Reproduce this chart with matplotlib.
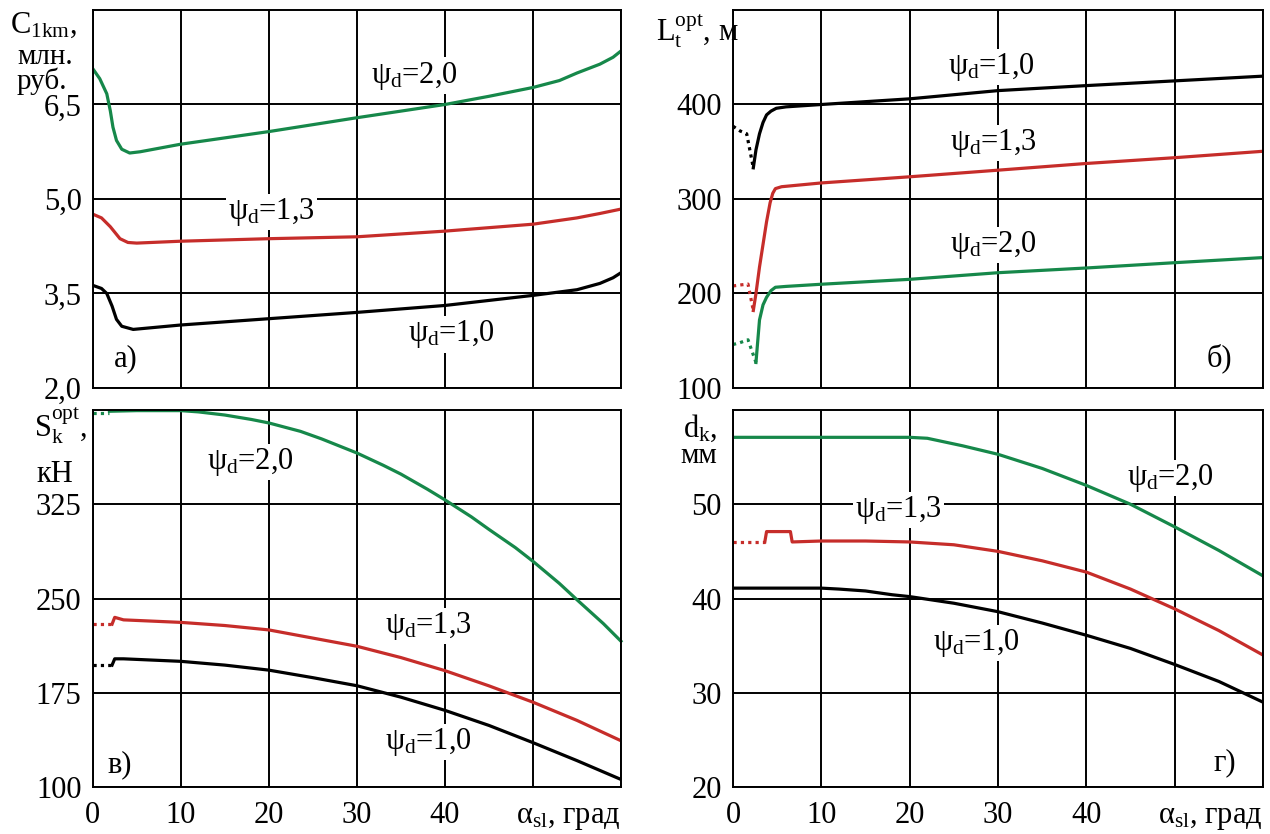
import matplotlib
matplotlib.use("Agg")
import matplotlib.pyplot as plt

plt.rcParams["font.family"] = ["Liberation Serif", "DejaVu Serif"]
plt.rcParams["mathtext.fontset"] = "custom"
plt.rcParams["mathtext.rm"] = "Liberation Serif"
plt.rcParams["mathtext.it"] = "Liberation Serif"
plt.rcParams["font.size"] = 22

GREEN = "#16884a"
RED = "#c62d2a"
BLACK = "#000000"

# --- а) cost per 1 km, mln rub ---
C_X_20 = [0, 0.8, 1.6, 2.0, 2.3, 2.7, 3.3, 4.2, 5.4, 10, 20, 30, 40, 45, 50, 53, 55, 57.6, 59.1, 60]
C_Y_20 = [7.07, 6.91, 6.67, 6.40, 6.14, 5.93, 5.79, 5.73, 5.75, 5.87, 6.07, 6.29, 6.50, 6.63, 6.77, 6.88, 7.00, 7.14, 7.25, 7.35]
C_X_13 = [0, 1.0, 2.0, 3.1, 4.0, 5.0, 10, 20, 30, 40, 50, 55, 57.6, 60]
C_Y_13 = [4.76, 4.70, 4.56, 4.37, 4.31, 4.30, 4.33, 4.37, 4.40, 4.49, 4.60, 4.70, 4.77, 4.84]
C_X_10 = [0, 1.0, 1.6, 2.2, 2.7, 3.3, 4.6, 10, 20, 30, 40, 50, 55, 57.6, 59.1, 60]
C_Y_10 = [3.63, 3.58, 3.50, 3.30, 3.09, 2.98, 2.93, 3.00, 3.10, 3.20, 3.31, 3.47, 3.56, 3.66, 3.75, 3.83]

# --- б) optimal length L_t, m (dotted start, then solid) ---
L_X_10_DOT = [0, 0.8, 1.55, 2.3]
L_Y_10_DOT = [377, 372, 369, 333]
L_X_10 = [2.3, 2.6, 3.0, 3.4, 3.8, 4.3, 4.9, 6, 10, 20, 30, 40, 50, 60]
L_Y_10 = [333, 352, 369, 381, 389, 393, 396, 397.5, 400, 406, 414.7, 420, 425, 430]
L_X_13_DOT = [0, 0.8, 1.7, 2.3]
L_Y_13_DOT = [208, 209, 210, 182]
L_X_13 = [2.3, 2.6, 3.0, 3.4, 3.8, 4.2, 4.5, 4.8, 5.5, 10, 20, 30, 40, 50, 60]
L_Y_13 = [182, 200, 228, 252, 276, 296, 306, 311, 313, 317, 323.5, 330.5, 337.6, 343.7, 350.5]
L_X_20_DOT = [0, 0.8, 1.7, 2.6]
L_Y_20_DOT = [146, 148, 151, 127]
L_X_20 = [2.6, 3.0, 3.4, 3.8, 4.3, 4.8, 6, 10, 20, 30, 40, 50, 60]
L_Y_20 = [127, 172, 188, 196, 203, 206.6, 207.5, 209.8, 215, 222, 227, 232.6, 238]

# --- в) optimal force S_k, kN ---
S_X_20_DOT = [0, 1.9]
S_Y_20_DOT = [398, 398]
S_X_20 = [1.9, 5, 10, 12, 15, 18, 20, 23.6, 26, 30, 33, 35, 38, 40, 43, 45, 48, 50, 53, 55, 58, 60]
S_Y_20 = [399, 399.5, 399.5, 398.5, 396, 392.5, 389.7, 383, 377, 365.8, 356, 349, 337, 328.5, 315, 305, 290.5, 279.6, 262, 249, 230, 216]
S_X_13_DOT = [0, 2.2]
S_Y_13_DOT = [229.6, 229.6]
S_X_13 = [2.2, 2.5, 3.5, 10, 15, 20, 25, 30, 35, 40, 45, 50, 55, 60]
S_Y_13 = [229.6, 235, 233, 231, 228.5, 225, 218.5, 212, 203, 192.6, 180.5, 167.5, 153, 136.8]
S_X_10_DOT = [0, 2.2]
S_Y_10_DOT = [197, 197]
S_X_10 = [2.2, 2.5, 3.5, 10, 15, 20, 25, 30, 35, 40, 45, 50, 55, 60]
S_Y_10 = [197, 202, 202, 200, 197, 193, 187, 180.6, 171.5, 161, 149, 135.3, 121, 106]

# --- г) rope diameter d_k, mm ---
D_X_20 = [0, 10, 20, 22, 24, 26, 30, 35, 40, 45, 50, 55, 60]
D_Y_20 = [57.1, 57.1, 57.1, 57.0, 56.6, 56.2, 55.3, 53.8, 52.0, 50.0, 47.6, 45.1, 42.4]
D_X_13_DOT = [0, 3.6]
D_Y_13_DOT = [46.0, 46.0]
D_X_13 = [3.6, 3.8, 6.5, 6.7, 10, 15, 20, 25, 30, 35, 40, 45, 50, 55, 60]
D_Y_13 = [46.0, 47.1, 47.1, 46.0, 46.1, 46.1, 46.0, 45.7, 45.0, 44.0, 42.8, 41.0, 38.9, 36.6, 34.0]
D_X_10 = [0, 10, 12, 15, 18, 20, 25, 30, 35, 40, 45, 50, 55, 60]
D_Y_10 = [41.1, 41.1, 41.0, 40.8, 40.4, 40.2, 39.5, 38.6, 37.4, 36.1, 34.7, 33.0, 31.2, 29.0]

X_TICKS = [0, 10, 20, 30, 40, 50, 60]
X_TICK_LABELS = ["0", "10", "20", "30", "40", "", ""]

LW = 2.3
DOT = (0, (1.0, 1.3))
W, H = 1270, 834


def px_axes(left, top, right, bottom):
    return [left / W, 1 - bottom / H, (right - left) / W, (bottom - top) / H]


def fig_text(x, y, text, **kw):
    # place text by pixel position (from top-left corner), y is the baseline
    fig.text(x / W, 1 - y / H, text, ha="left", va="baseline", **kw)


def setup(ax, ylim, yticks, yticklabels, show_x):
    ax.set_xlim(0, 60)
    ax.set_ylim(*ylim)
    ax.set_xticks(X_TICKS)
    ax.set_yticks(yticks)
    ax.set_yticklabels(yticklabels)
    if show_x:
        ax.set_xticklabels(X_TICK_LABELS)
        ax.text(1.0, -0.095, r"α$_{\rm sl}$, град", transform=ax.transAxes,
                ha="right", va="baseline")
    else:
        ax.set_xticklabels([])
    ax.tick_params(axis="y", length=0, pad=8)
    ax.tick_params(axis="x", length=0, pad=10)
    ax.grid(True, color="black", lw=1.4)
    for s in ax.spines.values():
        s.set_linewidth(1.4)
        s.set_zorder(5)


def label(ax, x, y, text):
    ax.text(x, y, text, ha="center", va="center", zorder=3,
            bbox=dict(facecolor="white", edgecolor="none", pad=1.5))


fig = plt.figure(figsize=(12.7, 8.34), dpi=100)

# а)
ax = fig.add_axes(px_axes(92.7, 10, 621, 388))
setup(ax, (2.0, 8.0), [2.0, 3.5, 5.0, 6.5], ["2,0", "3,5", "5,0", "6,5"], False)
ax.plot(C_X_20, C_Y_20, color=GREEN, lw=LW, zorder=4)
ax.plot(C_X_13, C_Y_13, color=RED, lw=LW, zorder=4)
ax.plot(C_X_10, C_Y_10, color=BLACK, lw=LW, zorder=4)
label(ax, 36.5, 6.96, r"ψ$_{\rm d}$=2,0")
label(ax, 20.3, 4.79, r"ψ$_{\rm d}$=1,3")
label(ax, 40.7, 2.85, r"ψ$_{\rm d}$=1,0")
ax.text(3.7, 2.46, "а)", ha="center", va="center")
fig_text(10, 33, r"C$_{\rm 1km}$,")
fig_text(17, 64, "млн.", fontsize=21)
fig_text(17, 89, "руб.", fontsize=21)

# б)
ax = fig.add_axes(px_axes(733, 10, 1263, 388))
setup(ax, (100, 500), [100, 200, 300, 400], ["100", "200", "300", "400"], False)
ax.plot(L_X_10_DOT, L_Y_10_DOT, color=BLACK, lw=LW, ls=DOT, zorder=4)
ax.plot(L_X_10, L_Y_10, color=BLACK, lw=LW, zorder=4)
ax.plot(L_X_13_DOT, L_Y_13_DOT, color=RED, lw=LW, ls=DOT, zorder=4)
ax.plot(L_X_13, L_Y_13, color=RED, lw=LW, zorder=4)
ax.plot(L_X_20_DOT, L_Y_20_DOT, color=GREEN, lw=LW, ls=DOT, zorder=4)
ax.plot(L_X_20, L_Y_20, color=GREEN, lw=LW, zorder=4)
label(ax, 29.2, 440, r"ψ$_{\rm d}$=1,0")
label(ax, 29.5, 359, r"ψ$_{\rm d}$=1,3")
label(ax, 29.5, 251, r"ψ$_{\rm d}$=2,0")
ax.text(55.1, 131, "б)", ha="center", va="center")
fig_text(656, 40, r"L$_{\rm t}^{\rm opt}$, м")

# в)
ax = fig.add_axes(px_axes(92.7, 410, 621, 787))
setup(ax, (100, 400), [100, 175, 250, 325], ["100", "175", "250", "325"], True)
ax.plot(S_X_20_DOT, S_Y_20_DOT, color=GREEN, lw=LW, ls=DOT, zorder=4, clip_on=False)
ax.plot(S_X_20, S_Y_20, color=GREEN, lw=LW, zorder=4, clip_on=False)
ax.plot(S_X_13_DOT, S_Y_13_DOT, color=RED, lw=LW, ls=DOT, zorder=4)
ax.plot(S_X_13, S_Y_13, color=RED, lw=LW, zorder=4)
ax.plot(S_X_10_DOT, S_Y_10_DOT, color=BLACK, lw=LW, ls=DOT, zorder=4)
ax.plot(S_X_10, S_Y_10, color=BLACK, lw=LW, zorder=4)
label(ax, 17.9, 358.7, r"ψ$_{\rm d}$=2,0")
label(ax, 38.1, 228, r"ψ$_{\rm d}$=1,3")
label(ax, 38.1, 136, r"ψ$_{\rm d}$=1,0")
ax.text(3.1, 117.5, "в)", ha="center", va="center")
fig_text(34, 437, r"S$_{\rm k}^{\rm opt}$,")
fig_text(36, 482, "кН")

# г)
ax = fig.add_axes(px_axes(733, 410, 1263, 787))
setup(ax, (20, 60), [20, 30, 40, 50], ["20", "30", "40", "50"], True)
ax.plot(D_X_20, D_Y_20, color=GREEN, lw=LW, zorder=4)
ax.plot(D_X_13_DOT, D_Y_13_DOT, color=RED, lw=LW, ls=DOT, zorder=4)
ax.plot(D_X_13, D_Y_13, color=RED, lw=LW, zorder=4)
ax.plot(D_X_10, D_Y_10, color=BLACK, lw=LW, zorder=4)
label(ax, 49.5, 52.8, r"ψ$_{\rm d}$=2,0")
label(ax, 18.7, 49.4, r"ψ$_{\rm d}$=1,3")
label(ax, 27.6, 35.3, r"ψ$_{\rm d}$=1,0")
ax.text(55.7, 22.6, "г)", ha="center", va="center")
fig_text(683, 437, r"d$_{\rm k}$,")
fig_text(680, 463, "мм", fontsize=21)

fig.savefig("out.png", dpi=100)
